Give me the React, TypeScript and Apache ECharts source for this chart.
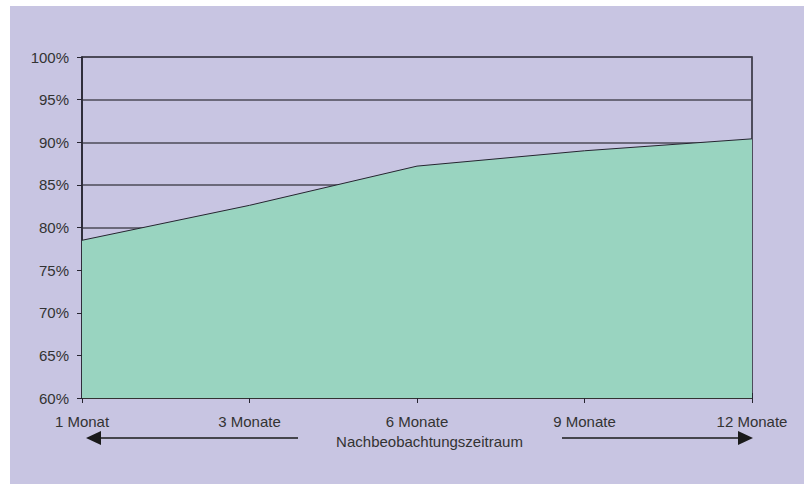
import React, { useEffect, useRef } from "react";
import * as echarts from "echarts";

// Follow-up period categories and the share per period (percent)
const periods: string[] = ["1 Monat", "3 Monate", "6 Monate", "9 Monate", "12 Monate"];
const shares: number[] = [78.5, 82.6, 87.2, 89.0, 90.4];
const axisTitle = "Nachbeobachtungszeitraum";

const yMin = 60;
const yMax = 100;
const yStep = 5;

const BG = "#c8c5e2";
const FILL = "#99d4c0";
const INK = "#262430";
const FONT = "'Liberation Sans', Arial, sans-serif";

export default function App() {
  const ref = useRef<HTMLDivElement>(null);

  useEffect(() => {
    if (!ref.current) return;
    const chart = echarts.init(ref.current, undefined, { renderer: "svg" });
    chart.setOption({
      animation: false,
      backgroundColor: BG,
      textStyle: { fontFamily: FONT },
      grid: {
        left: 72,
        top: 51,
        right: 52,
        bottom: 86,
        show: true,
        borderColor: INK,
        borderWidth: 1.5,
        backgroundColor: "transparent",
      },
      xAxis: [
        {
          type: "category",
          data: periods,
          boundaryGap: false,
          axisLine: { lineStyle: { color: "#333", width: 2 } },
          axisTick: { show: true, length: 5, lineStyle: { color: INK, width: 1 } },
          axisLabel: { color: "#333", fontSize: 15, margin: 16, fontFamily: FONT },
          name: axisTitle,
          nameLocation: "middle",
          nameGap: 31,
          nameTextStyle: { color: "#333", fontSize: 15, fontFamily: FONT, padding: [0, 0, 0, 25] },
          splitLine: { show: false },
        },
        {
          type: "category",
          data: periods,
          boundaryGap: false,
          position: "bottom",
          axisLine: { show: false },
          axisTick: { show: true, inside: true, length: 5, lineStyle: { color: INK, width: 1 } },
          axisLabel: { show: false },
          splitLine: { show: false },
        },
      ],
      yAxis: {
        type: "value",
        min: yMin,
        max: yMax,
        interval: yStep,
        axisLine: { show: true, lineStyle: { color: INK, width: 1.5 } },
        axisTick: { show: true, length: 5, lineStyle: { color: INK, width: 1 } },
        axisLabel: {
          color: "#333",
          fontSize: 15,
          margin: 13,
          fontFamily: FONT,
          formatter: (v: number) => `${v}%`,
        },
        splitLine: { show: true, lineStyle: { color: "#4d4a57", width: 1.5 } },
      },
      series: [
        {
          type: "line",
          data: shares,
          xAxisIndex: 0,
          symbol: "none",
          lineStyle: { color: INK, width: 1 },
          areaStyle: { color: FILL, opacity: 1, origin: "start" },
          z: 3,
        },
      ],
      graphic: [
        // arrow pointing left
        { type: "line", shape: { x1: 90, y1: 432, x2: 288, y2: 432 }, style: { stroke: "#1a1a1a", lineWidth: 1.5 } },
        { type: "polygon", shape: { points: [[76, 432], [91, 425], [91, 439]] }, style: { fill: "#1a1a1a" } },
        // arrow pointing right
        { type: "line", shape: { x1: 552, y1: 432, x2: 730, y2: 432 }, style: { stroke: "#1a1a1a", lineWidth: 1.5 } },
        { type: "polygon", shape: { points: [[743, 432], [728, 425], [728, 439]] }, style: { fill: "#1a1a1a" } },
      ],
    });
    return () => chart.dispose();
  }, []);

  return (
    <div style={{ position: "absolute", left: 0, top: 0, width: 807, height: 484, background: "#fff" }}>
      <div ref={ref} style={{ position: "absolute", left: 10, top: 6, width: 794, height: 478 }} />
    </div>
  );
}
